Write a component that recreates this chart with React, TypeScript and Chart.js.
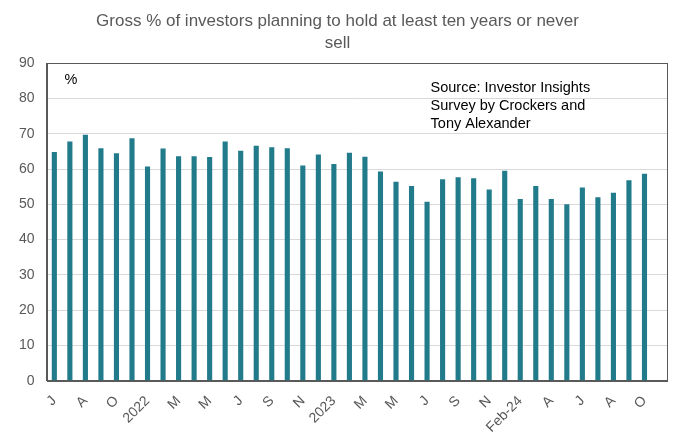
import React, { useEffect, useRef } from "react";
import { Chart, registerables } from "chart.js";

Chart.register(...registerables);

const TITLE = ["Gross % of investors planning to hold at least ten years or never", "sell"];
const SOURCE_LINES = ["Source: Investor Insights", "Survey by Crockers and", "Tony Alexander"];

const CATEGORIES = [
  "Jun-21", "Jul-21", "Aug-21", "Sep-21", "Oct-21", "Nov-21",
  "Jan-22", "Feb-22", "Mar-22", "Apr-22", "May-22", "Jun-22", "Jul-22", "Aug-22", "Sep-22", "Oct-22", "Nov-22", "Dec-22",
  "Jan-23", "Feb-23", "Mar-23", "Apr-23", "May-23", "Jun-23", "Jul-23", "Aug-23", "Sep-23", "Oct-23", "Nov-23",
  "Jan-24", "Feb-24", "Mar-24", "Apr-24", "May-24", "Jun-24", "Jul-24", "Aug-24", "Sep-24", "Oct-24", "Nov-24",
];

const TICK_LABELS = [
  "J", "", "A", "", "O", "",
  "2022", "", "M", "", "M", "", "J", "", "S", "", "N", "",
  "2023", "", "M", "", "M", "", "J", "", "S", "", "N",
  "", "Feb-24", "", "A", "", "J", "", "A", "", "O", "",
];

const VALUES = [
  64.8, 67.8, 69.7, 65.9, 64.5, 68.7,
  60.7, 65.8, 63.6, 63.6, 63.4, 67.8, 65.2, 66.6, 66.2, 65.9, 61.0, 64.1,
  61.4, 64.6, 63.5, 59.3, 56.4, 55.2, 50.7, 57.1, 57.7, 57.4, 54.2,
  59.5, 51.5, 55.2, 51.5, 50.0, 54.8, 52.0, 53.3, 56.8, 58.7, null,
];

const BAR_COLOR = "#227B8B";
const TEXT_GREY = "#595959";
const FONT = "'Liberation Sans', Arial, sans-serif";

const annotationPlugin = {
  id: "annotations",
  afterDraw(chart: any) {
    const { ctx, chartArea } = chart;
    ctx.save();
    ctx.strokeStyle = "#595959";
    ctx.lineWidth = 1;
    ctx.strokeRect(
      Math.round(chartArea.left) + 0.5,
      Math.round(chartArea.top) + 0.5,
      Math.round(chartArea.right - chartArea.left) - 1,
      Math.round(chartArea.bottom - chartArea.top)
    );
    ctx.fillStyle = "#000000";
    ctx.font = "14.5px " + FONT;
    ctx.textBaseline = "middle";
    ctx.textAlign = "left";
    ctx.fillText("%", chartArea.left + 18, chartArea.top + 17);
    SOURCE_LINES.forEach((line, i) => {
      ctx.fillText(line, chartArea.left + 384, chartArea.top + 25 + i * 18);
    });
    ctx.restore();
  },
};

export default function App() {
  const canvasRef = useRef<HTMLCanvasElement | null>(null);

  useEffect(() => {
    document.body.style.margin = "0";
    const canvas = canvasRef.current;
    if (!canvas) return;
    const chart = new Chart(canvas, {
      type: "bar",
      data: {
        labels: CATEGORIES,
        datasets: [
          {
            data: VALUES,
            backgroundColor: BAR_COLOR,
            categoryPercentage: 1,
            barPercentage: 0.33,
          },
        ],
      },
      options: {
        animation: false,
        responsive: false,
        maintainAspectRatio: false,
        layout: { padding: { left: 7, right: 8, top: 0, bottom: -8 } },
        plugins: {
          legend: { display: false },
          tooltip: { enabled: false },
          title: {
            display: true,
            text: TITLE,
            color: TEXT_GREY,
            font: { family: FONT, size: 17, weight: "normal", lineHeight: 1.3 },
            padding: { top: 10, bottom: 9 },
          },
        },
        scales: {
          x: {
            grid: { display: false },
            border: { display: true, color: "#595959" },
            ticks: {
              autoSkip: false,
              maxRotation: 45,
              minRotation: 45,
              color: TEXT_GREY,
              font: { family: FONT, size: 14 },
              padding: 4,
              callback: (_v: any, i: number) => TICK_LABELS[i],
            },
          },
          y: {
            min: 0,
            max: 90,
            grid: { color: "#d9d9d9", drawTicks: false },
            border: { display: true, color: "#595959" },
            ticks: {
              stepSize: 10,
              color: TEXT_GREY,
              font: { family: FONT, size: 14 },
              padding: 12,
            },
          },
        },
      },
      plugins: [annotationPlugin],
    });
    return () => chart.destroy();
  }, []);

  return (
    <div style={{ width: 676, height: 432 }}>
      <canvas ref={canvasRef} width={676} height={432} style={{ display: "block" }} />
    </div>
  );
}
